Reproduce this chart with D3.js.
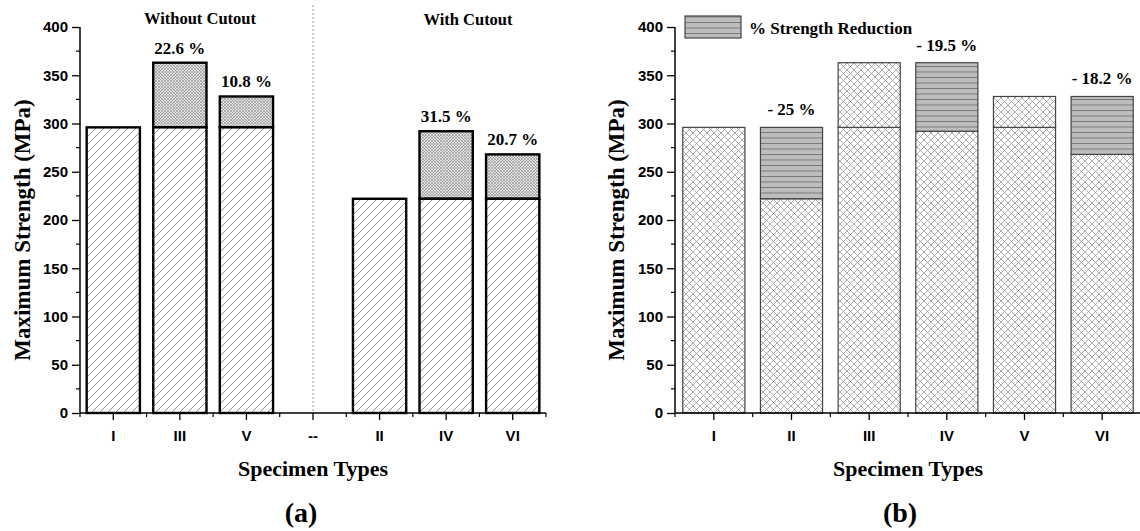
<!DOCTYPE html>
<html lang="en">
<head>
<meta charset="UTF-8">
<title>Maximum Strength</title>
<script src="https://cdn.jsdelivr.net/npm/d3@7"></script>
<style>
    body { margin: 0; background: #fff; }
    .tick text { font-family: "Liberation Sans", Arial, sans-serif; font-weight: bold; font-size: 15px; fill: #000; }
    .title { font-family: "Liberation Serif", "Times New Roman", serif; font-weight: bold; fill: #000; }
</style>
</head>
<body>
<svg id="chart" width="1140" height="531"></svg>
<script>
    // panel (a): without / with cutout
    const catsA = ["I", "III", "V", "--", "II", "IV", "VI"];
    const baseA = [296, 296, 296, null, 222, 222, 222];
    const topA = [296, 363, 328, null, 222, 292, 268];
    const pctA = ["", "22.6 %", "10.8 %", "", "", "31.5 %", "20.7 %"];

    // panel (b): by specimen type
    const catsB = ["I", "II", "III", "IV", "V", "VI"];
    const lowerB = [296, 222, 296, 292, 296, 268];
    const upperB = [296, 296, 363, 363, 328, 328];
    const reductionB = [false, true, false, true, false, true];
    const pctB = ["", "- 25 %", "", "- 19.5 %", "", "- 18.2 %"];

    const yTicks = [0, 50, 100, 150, 200, 250, 300, 350, 400];

    const svg = d3.select("#chart");
    const defs = svg.append("defs");

    // diagonal hatch (a, base)
    const p1 = defs.append("pattern").attr("id", "diag").attr("patternUnits", "userSpaceOnUse")
        .attr("width", 8).attr("height", 8);
    p1.append("rect").attr("width", 8).attr("height", 8).attr("fill", "#fff");
    p1.append("path").attr("d", "M-2,10 L10,-2 M-2,2 L2,-2 M6,10 L10,6")
        .attr("stroke", "#777").attr("stroke-width", 0.8);

    // dense cross (a, increase)
    const p2 = defs.append("pattern").attr("id", "dense").attr("patternUnits", "userSpaceOnUse")
        .attr("width", 3).attr("height", 3);
    p2.append("rect").attr("width", 3).attr("height", 3).attr("fill", "#e4e4e4");
    p2.append("path").attr("d", "M0,3 L3,0 M0,0 L3,3").attr("stroke", "#888").attr("stroke-width", 0.6);

    // crosshatch (b)
    const p3 = defs.append("pattern").attr("id", "cross").attr("patternUnits", "userSpaceOnUse")
        .attr("width", 7).attr("height", 7);
    p3.append("rect").attr("width", 7).attr("height", 7).attr("fill", "#fff");
    p3.append("path").attr("d", "M0,7 L7,0 M0,0 L7,7").attr("stroke", "#8a8a8a").attr("stroke-width", 0.7);

    // horizontal lines (b, reduction)
    const p4 = defs.append("pattern").attr("id", "horiz").attr("patternUnits", "userSpaceOnUse")
        .attr("width", 8).attr("height", 5.5);
    p4.append("rect").attr("width", 8).attr("height", 5.5).attr("fill", "#bdbdbd");
    p4.append("line").attr("x1", 0).attr("x2", 8).attr("y1", 0.5).attr("y2", 0.5)
        .attr("stroke", "#666").attr("stroke-width", 0.8);

    const y = d3.scaleLinear().domain([0, 400]).range([413, 27]);

    function drawAxes(g, x, x0, x1, cats) {
        const yAxis = g.append("g").attr("transform", `translate(${x0},0)`)
            .call(d3.axisLeft(y).tickValues(yTicks).tickSize(8).tickPadding(4));
        yAxis.select(".domain").attr("stroke-width", 1.5).attr("d", `M0,${y(400)}V${y(0)}`);
        yAxis.selectAll(".tick line").attr("stroke-width", 1.3);
        const minorY = d3.range(25, 400, 50);
        yAxis.selectAll(".minor").data(minorY).join("line").attr("class", "minor")
            .attr("x1", -4).attr("x2", 0).attr("y1", d => y(d)).attr("y2", d => y(d))
            .attr("stroke", "#000").attr("stroke-width", 1.2);

        const xAxis = g.append("g").attr("transform", `translate(0,${y(0)})`)
            .call(d3.axisBottom(x).tickSize(7).tickPadding(10));
        xAxis.select(".domain").attr("stroke-width", 1.5).attr("d", `M${x0},0H${x1}`);
        xAxis.selectAll(".tick line").attr("stroke-width", 1.3);
        const bounds = cats.map(c => x(c) - x.step() * x.paddingInner() / 2)
            .concat([x1]);
        xAxis.selectAll(".minor").data(bounds).join("line").attr("class", "minor")
            .attr("x1", d => d).attr("x2", d => d).attr("y1", 0).attr("y2", 4)
            .attr("stroke", "#000").attr("stroke-width", 1.2);
        xAxis.selectAll(".tick text").attr("font-size", 14);
    }

    // ----- panel (a)
    const gA = svg.append("g");
    const xA = d3.scaleBand().domain(catsA).range([80, 546]).paddingInner(0.2).paddingOuter(0.1);
    const idxA = catsA.map((d, i) => i).filter(i => baseA[i] !== null);

    gA.append("line").attr("x1", xA("--") + xA.bandwidth() / 2).attr("x2", xA("--") + xA.bandwidth() / 2)
        .attr("y1", 5).attr("y2", y(0)).attr("stroke", "#999").attr("stroke-width", 1)
        .attr("stroke-dasharray", "2,2");

    gA.append("g").selectAll("rect.top").data(idxA.filter(i => topA[i] > baseA[i])).join("rect")
        .attr("x", i => xA(catsA[i])).attr("width", xA.bandwidth())
        .attr("y", i => y(topA[i])).attr("height", i => y(baseA[i]) - y(topA[i]))
        .attr("fill", "url(#dense)").attr("stroke", "#000").attr("stroke-width", 2.4);
    gA.append("g").selectAll("rect.base").data(idxA).join("rect")
        .attr("x", i => xA(catsA[i])).attr("width", xA.bandwidth())
        .attr("y", i => y(baseA[i])).attr("height", i => y(0) - y(baseA[i]))
        .attr("fill", "url(#diag)").attr("stroke", "#000").attr("stroke-width", 2.4);
    gA.append("g").selectAll("text").data(idxA.filter(i => pctA[i])).join("text")
        .attr("class", "title").attr("font-size", 17).attr("text-anchor", "middle")
        .attr("x", i => xA(catsA[i]) + xA.bandwidth() / 2).attr("y", i => y(topA[i]) - 9)
        .text(i => pctA[i]);

    drawAxes(gA, xA, 80, 546, catsA);

    gA.append("text").attr("class", "title").attr("font-size", 16.5).attr("text-anchor", "middle")
        .attr("x", 200).attr("y", 24).text("Without Cutout");
    gA.append("text").attr("class", "title").attr("font-size", 16.5).attr("text-anchor", "middle")
        .attr("x", 468).attr("y", 25).text("With Cutout");
    gA.append("text").attr("class", "title").attr("font-size", 23).attr("text-anchor", "middle")
        .attr("transform", `translate(30,230) rotate(-90)`).text("Maximum Strength (MPa)");
    gA.append("text").attr("class", "title").attr("font-size", 22).attr("text-anchor", "middle")
        .attr("x", 313).attr("y", 476).text("Specimen Types");
    gA.append("text").attr("class", "title").attr("font-size", 28).attr("text-anchor", "middle")
        .attr("x", 301).attr("y", 522).text("(a)");

    // ----- panel (b)
    const gB = svg.append("g");
    const xB = d3.scaleBand().domain(catsB).range([675, 1141]).paddingInner(0.2).paddingOuter(0.1);
    const idxB = catsB.map((d, i) => i);

    gB.append("g").selectAll("rect.low").data(idxB).join("rect")
        .attr("x", i => xB(catsB[i])).attr("width", xB.bandwidth())
        .attr("y", i => y(lowerB[i])).attr("height", i => y(0) - y(lowerB[i]))
        .attr("fill", "url(#cross)").attr("stroke", "#444").attr("stroke-width", 1.2);
    gB.append("g").selectAll("rect.up").data(idxB.filter(i => upperB[i] > lowerB[i])).join("rect")
        .attr("x", i => xB(catsB[i])).attr("width", xB.bandwidth())
        .attr("y", i => y(upperB[i])).attr("height", i => y(lowerB[i]) - y(upperB[i]))
        .attr("fill", i => reductionB[i] ? "url(#horiz)" : "url(#cross)")
        .attr("stroke", "#444").attr("stroke-width", 1.2);
    gB.append("g").selectAll("text").data(idxB.filter(i => pctB[i])).join("text")
        .attr("class", "title").attr("font-size", 17).attr("text-anchor", "middle")
        .attr("x", i => xB(catsB[i]) + xB.bandwidth() / 2).attr("y", i => y(upperB[i]) - 12)
        .text(i => pctB[i]);

    drawAxes(gB, xB, 675, 1141, catsB);

    // legend
    gB.append("rect").attr("x", 685).attr("y", 16).attr("width", 56).attr("height", 22)
        .attr("fill", "url(#horiz)").attr("stroke", "#444").attr("stroke-width", 1.2);
    gB.append("text").attr("class", "title").attr("font-size", 17)
        .attr("x", 749).attr("y", 34).text("% Strength Reduction");

    gB.append("text").attr("class", "title").attr("font-size", 23).attr("text-anchor", "middle")
        .attr("transform", `translate(624,230) rotate(-90)`).text("Maximum Strength (MPa)");
    gB.append("text").attr("class", "title").attr("font-size", 22).attr("text-anchor", "middle")
        .attr("x", 908).attr("y", 476).text("Specimen Types");
    gB.append("text").attr("class", "title").attr("font-size", 28).attr("text-anchor", "middle")
        .attr("x", 900).attr("y", 522).text("(b)");
</script>
</body>
</html>
